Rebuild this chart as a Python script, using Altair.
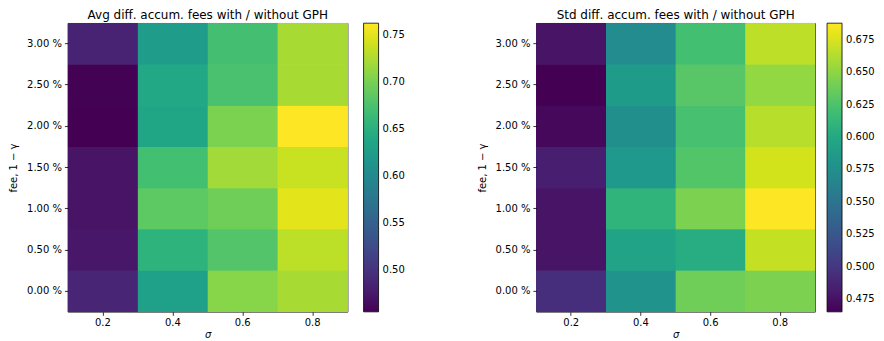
import altair as alt
import pandas as pd

sigma = ["0.2", "0.4", "0.6", "0.8"]
fees = ["0.00 %", "0.50 %", "1.00 %", "1.50 %", "2.00 %", "2.50 %", "3.00 %"]

# rows follow fees (bottom to top), columns follow sigma
avg_vals = [
    [0.486, 0.630, 0.708, 0.723],
    [0.473, 0.655, 0.680, 0.732],
    [0.470, 0.686, 0.695, 0.750],
    [0.470, 0.670, 0.720, 0.738],
    [0.455, 0.637, 0.702, 0.763],
    [0.456, 0.640, 0.674, 0.723],
    [0.484, 0.624, 0.671, 0.723],
]
std_vals = [
    [0.494, 0.579, 0.639, 0.644],
    [0.476, 0.594, 0.603, 0.668],
    [0.476, 0.610, 0.644, 0.688],
    [0.483, 0.585, 0.628, 0.673],
    [0.469, 0.576, 0.623, 0.664],
    [0.465, 0.588, 0.630, 0.652],
    [0.476, 0.572, 0.621, 0.666],
]
avg_ticks = [0.50, 0.55, 0.60, 0.65, 0.70, 0.75]
std_ticks = [0.475, 0.500, 0.525, 0.550, 0.575, 0.600, 0.625, 0.650, 0.675]

FONT = "DejaVu Sans"


def to_df(vals):
    rows = []
    for i, f in enumerate(fees):
        for j, s in enumerate(sigma):
            rows.append({"fee": f, "sigma": s, "v": vals[i][j]})
    return pd.DataFrame(rows)


def panel(vals, title, ticks, fmt, w, leg_offset):
    df = to_df(vals)
    flat = [v for r in vals for v in r]
    dom = [min(flat), max(flat)]
    base = (
        alt.Chart(df)
        .mark_rect()
        .encode(
            x=alt.X("sigma:O", sort=sigma,
                    scale=alt.Scale(paddingInner=0, paddingOuter=0),
                    axis=alt.Axis(title="σ", labelAngle=0, titleFontStyle="italic")),
            y=alt.Y("fee:O", sort=fees[::-1],
                    scale=alt.Scale(paddingInner=0, paddingOuter=0),
                    axis=alt.Axis(title="fee, 1 − γ", titlePadding=8)),
            color=alt.Color("v:Q", scale=alt.Scale(scheme="viridis", domain=dom),
                            legend=alt.Legend(title=None, values=ticks, format=fmt,
                                              gradientLength=289, gradientThickness=15,
                                              gradientStrokeColor="black",
                                              gradientStrokeWidth=0.8, offset=leg_offset,
                                              padding=0,
                                              labelFontSize=10, labelFont=FONT,
                                              labelColor="black", labelOffset=4,
                                              direction="vertical", orient="right")),
        )
    )
    # stacked copies hide anti-aliasing seams between cells
    return alt.layer(base, base, base).properties(
        width=w, height=289,
        title=alt.TitleParams(title, fontSize=12, fontWeight="normal", font=FONT,
                              color="black", offset=1, frame="group", anchor="middle"),
    )


left = panel(avg_vals, "Avg diff. accum. fees with / without GPH", avg_ticks, ".2f", 280, 16)
right = panel(std_vals, "Std diff. accum. fees with / without GPH", std_ticks, ".3f", 279, 12)

chart = (
    alt.hconcat(left, right, spacing=70)
    .resolve_scale(color="independent")
    .properties(padding={"left": 0, "top": 0, "right": 0, "bottom": 0})
    .configure_view(stroke="black", strokeWidth=0.8)
    .configure_axis(domain=False, grid=False, tickColor="black", tickSize=3.5,
                    tickWidth=0.8, labelFont=FONT, labelFontSize=10, labelColor="black",
                    labelPadding=3, titleFont=FONT, titleFontSize=10,
                    titleFontWeight="normal", titleColor="black")
    .configure_axisX(titlePadding=2, labelPadding=2)
)

chart.save("out.html", embed_options={"renderer": "svg", "actions": False})
